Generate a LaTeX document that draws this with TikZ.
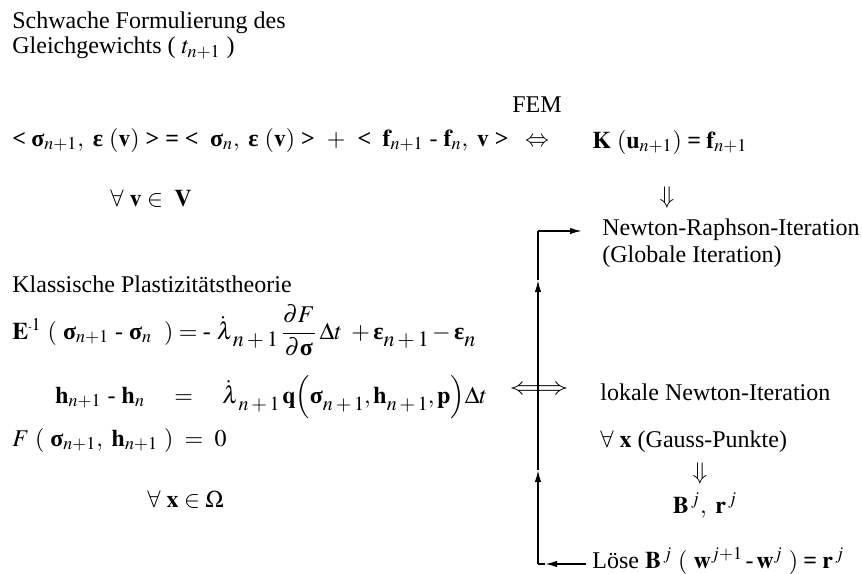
\documentclass[tikz,border=0pt]{standalone}
\usepackage{mathptmx}
\usepackage{fontspec}
\setmainfont{Liberation Serif}
\usetikzlibrary{arrows.meta}
\newcommand{\bsig}{\mbox{\bfseries σ}}
\newcommand{\bep}{\mbox{\bfseries ε}}
\newcommand{\mn}{\mbox{-}}
\newcommand{\bigsub}[1]{\mbox{\raisebox{-0.7ex}{\fontsize{11}{12}\selectfont$#1$}}}
\newcommand{\qsub}[1]{\mbox{\raisebox{-0.7ex}{\fontsize{10}{11}\selectfont$#1$}}}
\newcommand{\blt}{\mbox{\bfseries <}}
\newcommand{\bgt}{\mbox{\bfseries >}}
\begin{document}
\begin{tikzpicture}[x=0.5pt,y=-0.5pt,
  txt/.style={font=\fontsize{12}{14}\selectfont, inner sep=0pt, anchor=base west},
  ctxt/.style={font=\fontsize{12}{14}\selectfont, inner sep=0pt, anchor=base},
  sym/.style={font=\fontsize{12}{14}\selectfont, inner sep=0pt, anchor=center},
  flow/.style={line width=0.8pt},
  tip/.style={-{Latex[length=6pt,width=3.2pt]}, line width=0.8pt}]
\useasboundingbox (0,0) rectangle (862,573);

% top-left title
\node[txt] (t1) at (12,28) {Schwache Formulierung des};
\node[txt] (t2) at (12,54) {Gleichgewichts ( $t_{n+1}$ )};

% weak form
\node[ctxt] (fem) at (537,112) {FEM};
\node[txt] (weak) at (12,146) {$\blt\;\bsig_{n+1},\ \bep\ (\mathbf v)\ \bgt\ \mbox{\bfseries =}\ \blt\;\ \bsig_{n},\ \bep\ (\mathbf v)\ \bgt\ \,+\ \,\blt\;\ \mathbf f_{n+1}\ \mn\ \mathbf f_{n},\ \mathbf v\ \bgt$};
\node[sym] (eqv1) at (537,142) {$\Leftrightarrow$};
\node[txt] (kuf) at (592,148) {$\mathbf K\ (\mathbf u_{n+1})\;\mbox{\bfseries =}\;\mathbf f_{n+1}$};
\node[txt] (allv) at (110,206) {$\forall\ \mathbf v \in\ \mathbf V$};
\node[sym] (down1) at (667,197) {$\Downarrow$};
\node[txt] (nr) at (602,235) {Newton-Raphson-Iteration};
\node[txt] (glob) at (602,262) {(Globale Iteration)};

% classical plasticity
\node[txt] (kp) at (12,292) {Klassische Plastizitätstheorie};
\node[txt] (eq1) at (12,339) {$\mathbf E^{\mbox{\tiny -}1}\ (\ \bsig_{n+1}\ \mn\ \bsig_{n}\ \ ) = \mn\ \dot\lambda\bigsub{n+1}\,\displaystyle\frac{\partial F}{\partial \bsig}\,\Delta t\ +\bep\bigsub{n+1}-\bep\bigsub{n}$};
\node[txt] (eq2) at (55,403) {$\mathbf h_{n+1}\ \mn\ \mathbf h_{n}\quad=\quad\dot\lambda\qsub{n+1}\,\mathbf q\Bigl(\bsig\qsub{n+1}{,}\,\mathbf h\qsub{n+1}{,}\,\mathbf p\Bigr)\Delta t$};
\node[txt] (eq3) at (12,446) {$F\ (\ \bsig_{n+1},\ \mathbf h_{n+1}\ )\ =\ 0$};
\node[txt] (allx) at (147,507) {$\forall\ \mathbf x\in\Omega$};

% local iteration
\node[sym] (eqv2) at (539,390) {\scalebox{1.35}[1]{$\Longleftrightarrow$}};
\node[txt] (lok) at (600,400) {lokale Newton-Iteration};
\node[txt] (gauss) at (600,447) {$\forall\ \mathbf x$ (Gauss-Punkte)};
\node[sym] (down2) at (700,473) {$\Downarrow$};
\node[ctxt] (br) at (705,513) {$\mathbf B^{\,j},\ \mathbf r^{\,j}$};
\node[txt] (lose) at (592,568) {Löse $\mathbf B^{\,j}\ (\ \mathbf w^{j+1}\,\mn\,\mathbf w^{j}\ )\;\mbox{\bfseries =}\;\mathbf r^{\,j}$};

% loop connector
\coordinate (cbot) at (538,564);
\coordinate (ctop) at (538,231);
\coordinate (lend) at (586,564);
\coordinate (tip1) at (538,470);
\coordinate (tip2) at (538,280);
\coordinate (rend) at (582,231);
\draw[tip] (lend) -- (545,564);
\draw[flow] (545,564) -- (cbot);
\draw[tip] (cbot) -- (tip1);
\draw[tip] (tip1) -- (tip2);
\draw[flow] (tip2) -- (ctop);
\draw[tip] (ctop) -- (rend);
\end{tikzpicture}
\end{document}
